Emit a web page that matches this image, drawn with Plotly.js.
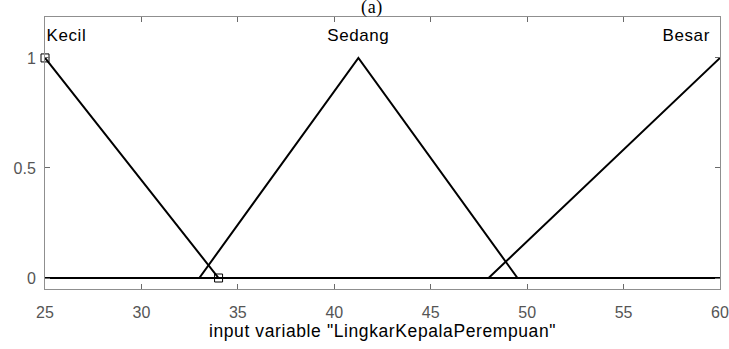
<!DOCTYPE html>
<html>
<head>
<meta charset="utf-8">
<script src="https://cdn.plot.ly/plotly-3.0.1.min.js"></script>
<style>
  html, body { margin: 0; padding: 0; background: #fff; }
  #chart { width: 729px; height: 349px; }
  /* slightly wider tracking for the labels and the axis title */
  #chart .annotation-text-g text.annotation-text { letter-spacing: 0.6px; }
  #chart .g-xtitle text { letter-spacing: 0.6px; }
</style>
</head>
<body>
<div id="chart"></div>
<script>
// Input variable range and triangular membership functions (trimf [a b c])
const xRange = [25, 60];
const mfNames = ["Kecil", "Sedang", "Besar"];
const mfParams = [
  [16, 25, 34],
  [33, 41.25, 49.5],
  [48, 60, 72]
];
// Highlighted vertices of the selected function (Kecil)
const selX = [25, 34];
const selY = [1, 0];
const xTicks = [25, 30, 35, 40, 45, 50, 55, 60];
const yTicks = [0, 0.5, 1];
const xTitle = 'input variable "LingkarKepalaPerempuan"';
const panelLabel = "(a)";

function trimf(x, p) {
  const [a, b, c] = p;
  if (x <= a || x >= c) return (x === b) ? 1 : 0;
  if (x <= b) return b === a ? 1 : (x - a) / (b - a);
  return c === b ? 1 : (c - x) / (c - b);
}

// Sample each function at the range ends and at its breakpoints
function curve(p) {
  const xs = [xRange[0], xRange[1]];
  p.forEach(v => { if (v > xRange[0] && v < xRange[1]) xs.push(v); });
  xs.sort((a, b) => a - b);
  return { x: xs, y: xs.map(v => trimf(v, p)) };
}

const traces = mfParams.map((p, i) => {
  const c = curve(p);
  return {
    x: c.x, y: c.y, type: "scatter", mode: "lines",
    name: mfNames[i], line: { color: "#000", width: 2 },
    hoverinfo: "skip", showlegend: false, cliponaxis: true
  };
});

traces.push({
  x: selX, y: selY, type: "scatter", mode: "markers",
  marker: { symbol: "square-open", size: 8, color: "#000", line: { width: 1 } },
  showlegend: false, hoverinfo: "skip", cliponaxis: false
});

const labelFont = { family: "Liberation Sans, Arial, sans-serif", size: 17, color: "#000" };

// Function names placed above each peak
const annotations = mfParams.map((p, i) => {
  const peak = p[1];
  let anchor = "center";
  if (peak <= xRange[0]) anchor = "left";
  if (peak >= xRange[1]) anchor = "right";
  return {
    x: Math.min(Math.max(peak, xRange[0]), xRange[1]), y: 1, xref: "x", yref: "y",
    text: mfNames[i], showarrow: false, xanchor: anchor, yanchor: "bottom",
    xshift: anchor === "right" ? -9 : (anchor === "left" ? 1 : 0), yshift: 11,
    font: labelFont
  };
});

annotations.push({
  x: 0.484, y: 1, xref: "paper", yref: "paper", text: panelLabel,
  showarrow: false, xanchor: "center", yanchor: "bottom", yshift: -3,
  font: { family: "Liberation Serif, Times New Roman, serif", size: 18, color: "#000" }
});

const axisCommon = {
  showgrid: false, zeroline: false, showline: true, mirror: "ticks",
  linecolor: "#8f8f8f", linewidth: 1, ticks: "inside", ticklen: 5,
  tickcolor: "#6a6a6a", tickwidth: 1,
  tickfont: { family: "Liberation Sans, Arial, sans-serif", size: 16, color: "#555" }
};

const layout = {
  width: 729, height: 349,
  margin: { l: 45, r: 9, t: 17, b: 60 },
  paper_bgcolor: "#fff", plot_bgcolor: "#fff",
  xaxis: Object.assign({}, axisCommon, {
    range: xRange, tickvals: xTicks, ticktext: xTicks.map(String),
    ticklabelstandoff: 9,
    title: { text: xTitle, standoff: 4,
      font: { family: "Liberation Sans, Arial, sans-serif", size: 17.5, color: "#000" } }
  }),
  yaxis: Object.assign({}, axisCommon, {
    range: [-0.05, 1.186], tickvals: yTicks, ticktext: yTicks.map(String),
    ticklabelstandoff: 5
  }),
  annotations: annotations
};

Plotly.newPlot("chart", traces, layout, { staticPlot: true, displayModeBar: false });
</script>
</body>
</html>
